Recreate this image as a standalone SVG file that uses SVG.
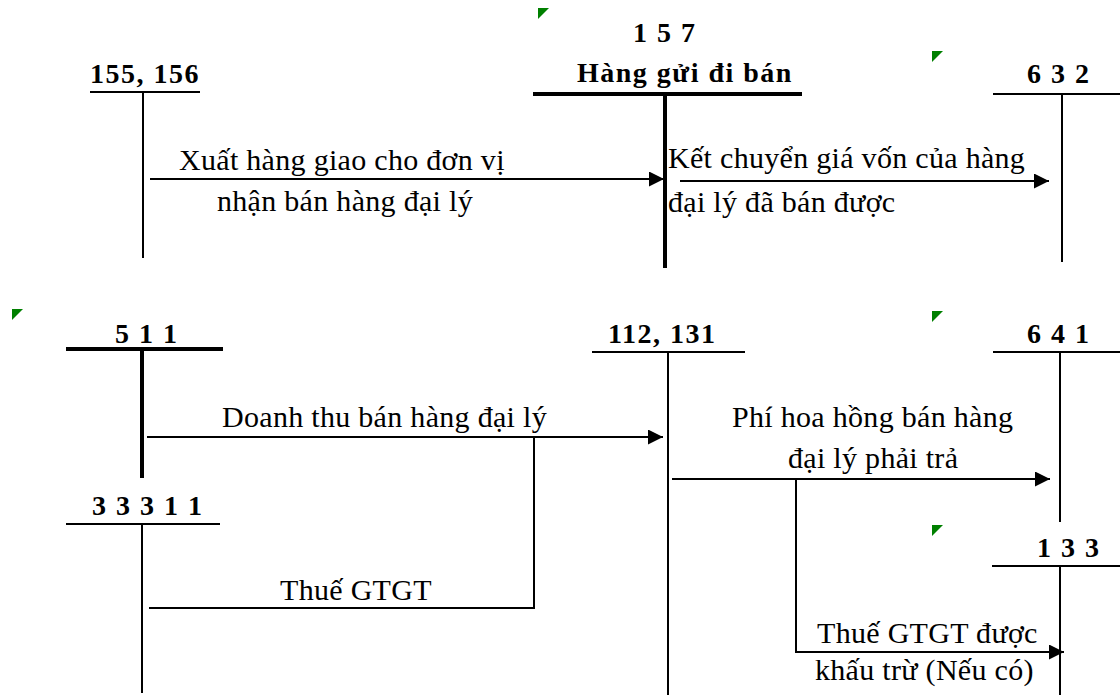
<svg xmlns="http://www.w3.org/2000/svg" width="1120" height="695" viewBox="0 0 1120 695">
<style>
.txt{font-family:"Liberation Serif","Times New Roman",serif;font-size:30px;fill:#000;letter-spacing:0.3px}
.acc{font-family:"Liberation Serif","Times New Roman",serif;font-size:28px;font-weight:bold;fill:#000;letter-spacing:1.5px}
.ln{stroke:#000;stroke-width:2;fill:none}
.tk{stroke:#000;stroke-width:4;fill:none}
.mk{fill:#008000}
</style>
<defs>
<marker id="ah" markerUnits="userSpaceOnUse" markerWidth="16" markerHeight="16" refX="15" refY="7.5" orient="auto">
<path d="M0,0 L15,7.5 L0,15 Z" fill="#000"/>
</marker>
</defs>
<rect width="1120" height="695" fill="#fff"/>
<g id="marks">
<polygon class="mk" points="538,8 549,8 538,19"/>
<polygon class="mk" points="932,51 943,51 932,62"/>
<polygon class="mk" points="12,309 23,309 12,320"/>
<polygon class="mk" points="932,311 943,311 932,322"/>
<polygon class="mk" points="932,525 943,525 932,536"/>
</g>
<g id="acc155156">
<text class="acc" x="90" y="83">155, 156</text>
<line class="ln" x1="90" y1="92" x2="200" y2="92"/>
<line class="ln" x1="143" y1="93" x2="143" y2="258"/>
</g>
<g id="acc157">
<text class="acc" x="633" y="42">1 5 7</text>
<text class="acc" x="577" y="82">Hàng gửi đi bán</text>
<line class="tk" x1="533" y1="94" x2="802" y2="94"/>
<line class="tk" x1="665" y1="94" x2="665" y2="268"/>
</g>
<g id="acc632">
<text class="acc" x="1027" y="83">6 3 2</text>
<line class="ln" x1="993" y1="94" x2="1120" y2="94"/>
<line class="ln" x1="1062" y1="94" x2="1062" y2="262"/>
</g>
<g id="acc511">
<text class="acc" x="115" y="343">5 1 1</text>
<line class="tk" x1="66" y1="349" x2="223" y2="349"/>
<line class="tk" x1="142" y1="351" x2="142" y2="478"/>
</g>
<g id="acc33311">
<text class="acc" x="92" y="515">3 3 3 1 1</text>
<line class="ln" x1="66" y1="524" x2="220" y2="524"/>
<line class="ln" x1="142" y1="524" x2="142" y2="693"/>
</g>
<g id="acc112131">
<text class="acc" x="608" y="343">112, 131</text>
<line class="ln" x1="592" y1="352" x2="745" y2="352"/>
<line class="ln" x1="668" y1="352" x2="668" y2="695"/>
</g>
<g id="acc641">
<text class="acc" x="1027" y="343">6 4 1</text>
<line class="ln" x1="993" y1="352" x2="1120" y2="352"/>
<line class="ln" x1="1060" y1="352" x2="1060" y2="522"/>
</g>
<g id="acc133">
<text class="acc" x="1037" y="557">1 3 3</text>
<line class="ln" x1="992" y1="566" x2="1120" y2="566"/>
<line class="ln" x1="1060" y1="566" x2="1060" y2="695"/>
</g>
<g id="connectors">
<path class="ln" d="M150,179 H664" marker-end="url(#ah)"/>
<path class="ln" d="M680,181 H1049" marker-end="url(#ah)"/>
<path class="ln" d="M147,437 H663" marker-end="url(#ah)"/>
<path class="ln" d="M534,437 V608 H149"/>
<path class="ln" d="M672,479 H1050" marker-end="url(#ah)"/>
<path class="ln" d="M796,479 V652 H1064" marker-end="url(#ah)"/>
</g>
<g id="labels">
<text class="txt" x="179" y="170">Xuất hàng giao cho đơn vị</text>
<text class="txt" x="217" y="211">nhận bán hàng đại lý</text>
<text class="txt" x="668" y="168">Kết chuyển giá vốn của hàng</text>
<text class="txt" x="668" y="212">đại lý đã bán được</text>
<text class="txt" x="222" y="427">Doanh thu bán hàng đại lý</text>
<text class="txt" x="280" y="600">Thuế GTGT</text>
<text class="txt" x="732" y="427">Phí hoa hồng bán hàng</text>
<text class="txt" x="788" y="468">đại lý phải trả</text>
<text class="txt" x="817" y="643">Thuế GTGT được</text>
<text class="txt" x="815" y="680">khấu trừ (Nếu có)</text>
</g>
</svg>
